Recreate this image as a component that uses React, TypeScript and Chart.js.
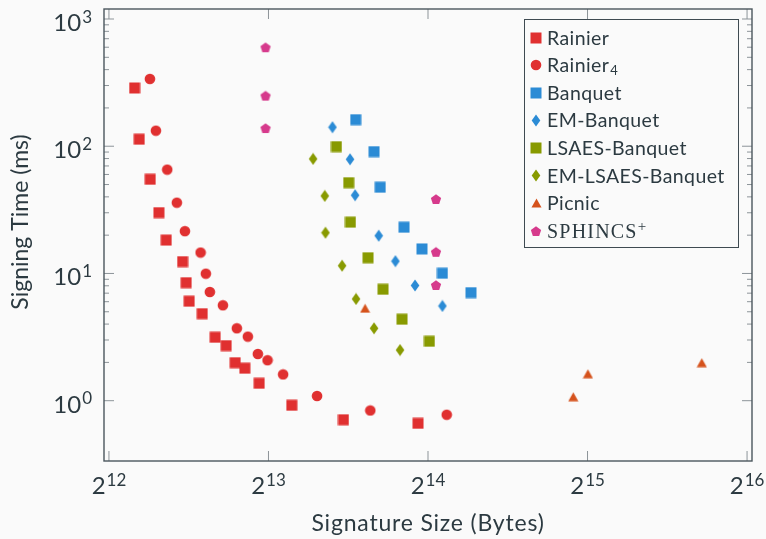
import React, { useEffect, useRef } from 'react';
import { Chart, registerables } from 'chart.js';

Chart.register(...registerables);

// ---- data (x: signature size in bytes, y: signing time in ms) ----
const rainierSize = [4579, 4672, 4900, 5089, 5253, 5640, 5729, 5804, 6142, 6498, 6816, 7088, 7392, 7866, 9066, 11349, 15689];
const rainierTime = [287, 113.5, 55.0, 30.1, 18.3, 12.4, 8.47, 6.05, 4.83, 3.15, 2.71, 1.99, 1.8, 1.37, 0.92, 0.709, 0.664];
const rainier4Size = [4894, 5023, 5276, 5502, 5697, 6099, 6241, 6350, 6720, 7141, 7489, 7822, 8159, 8730, 10117, 12749, 17771];
const rainier4Time = [338, 132.6, 65.5, 36.0, 21.5, 14.6, 9.96, 7.15, 5.62, 3.71, 3.19, 2.33, 2.08, 1.61, 1.089, 0.838, 0.776];
const banquetSize = [11969, 12961, 13314, 14764, 15962, 17442, 19745];
const banquetTime = [161.8, 90.7, 47.6, 23.1, 15.6, 10.04, 7.07];
const emBanquetSize = [10819, 11677, 11934, 13227, 14222, 15485, 17442];
const emBanquetTime = [141.1, 79.0, 41.2, 19.8, 12.5, 8.05, 5.55];
const lsaesSize = [11008, 11611, 11698, 12627, 13477, 14636, 16484];
const lsaesTime = [99.3, 51.7, 25.3, 13.3, 7.51, 4.37, 2.93];
const emLsaesSize = [9944, 10462, 10494, 11279, 11985, 12961, 14509];
const emLsaesTime = [79.5, 40.7, 20.9, 11.5, 6.3, 3.71, 2.5];
const picnicSize = [12464, 30801, 32818, 53830];
const picnicTime = [5.33, 1.075, 1.63, 1.99];
const sphincsSize = [8088, 8088, 8088, 16962, 16962, 16962];
const sphincsTime = [600, 250, 139, 38.5, 14.8, 8.12];

// tick exponents
const xTickExps = [12, 13, 14, 15, 16];
const yTickExps = [0, 1, 2, 3];

const xTitle = 'Signature Size (Bytes)';
const yTitle = 'Signing Time (ms)';

// legend entries: main text, subscript, superscript
const legendNames = ['Rainier', 'Rainier', 'Banquet', 'EM-Banquet', 'LSAES-Banquet', 'EM-LSAES-Banquet', 'Picnic', 'SPHINCS'];
const legendSubs = ['', '4', '', '', '', '', '', ''];
const legendSups = ['', '', '', '', '', '', '', '+'];

// ---- styles ----
const FONT = 'Lato, "Open Sans", sans-serif';
const SERIF = '"Liberation Serif", "DejaVu Serif", serif';
const TEXT = '#2c3a41';
const BG = '#fafafa';
const AXIS = '#4a565d';
const TICK = '#8d9499';
const RED = '#e03030';
const BLUE = '#2b8bd5';
const OLIVE = '#889a00';
const ORANGE = '#d5521c';
const MAGENTA = '#d63a8c';

function makeMarker(shape: string, color: string): HTMLCanvasElement {
  const c = document.createElement('canvas');
  const sizes: Record<string, [number, number]> = {
    square: [12, 12],
    circle: [12, 12],
    diamond: [10, 13],
    triangle: [11, 10],
    pentagon: [12, 12],
  };
  const [w, h] = sizes[shape];
  c.width = w;
  c.height = h;
  const ctx = c.getContext('2d')!;
  ctx.fillStyle = color;
  ctx.beginPath();
  if (shape === 'square') {
    ctx.rect(0.5, 0.5, w - 1, h - 1);
  } else if (shape === 'circle') {
    ctx.arc(w / 2, h / 2, 5.3, 0, Math.PI * 2);
  } else if (shape === 'diamond') {
    ctx.moveTo(w / 2, 0.5);
    ctx.lineTo(w - 0.7, h / 2);
    ctx.lineTo(w / 2, h - 0.5);
    ctx.lineTo(0.7, h / 2);
    ctx.closePath();
  } else if (shape === 'triangle') {
    ctx.moveTo(w / 2, 0.5);
    ctx.lineTo(w - 0.5, h - 0.5);
    ctx.lineTo(0.5, h - 0.5);
    ctx.closePath();
  } else if (shape === 'pentagon') {
    const r = 5.4;
    const cx = w / 2;
    const cy = h / 2 + 0.6;
    for (let k = 0; k < 5; k++) {
      const a = -Math.PI / 2 + (k * 2 * Math.PI) / 5;
      const px = cx + r * Math.cos(a);
      const py = cy + r * Math.sin(a);
      if (k === 0) ctx.moveTo(px, py);
      else ctx.lineTo(px, py);
    }
    ctx.closePath();
  }
  ctx.fill();
  return c;
}

function drawPow(ctx: CanvasRenderingContext2D, base: string, exp: string, x: number, y: number, align: 'center' | 'right') {
  const baseFont = `24px ${FONT}`;
  const expFont = `17px ${FONT}`;
  ctx.font = baseFont;
  const bw = ctx.measureText(base).width;
  ctx.font = expFont;
  const ew = ctx.measureText(exp).width;
  const total = bw + 1 + ew;
  const start = align === 'center' ? x - total / 2 : x - total;
  ctx.textAlign = 'left';
  ctx.textBaseline = 'alphabetic';
  ctx.fillStyle = TEXT;
  ctx.font = baseFont;
  ctx.fillText(base, start, y);
  ctx.font = expFont;
  ctx.fillText(exp, start + bw + 1, y - 8.5);
}

export default function App() {
  const ref = useRef<HTMLCanvasElement>(null);

  useEffect(() => {
    const canvas = ref.current!;
    const series = [
      { label: 'Rainier', xs: rainierSize, ys: rainierTime, shape: 'square', color: RED },
      { label: 'Rainier4', xs: rainier4Size, ys: rainier4Time, shape: 'circle', color: RED },
      { label: 'Banquet', xs: banquetSize, ys: banquetTime, shape: 'square', color: BLUE },
      { label: 'EM-Banquet', xs: emBanquetSize, ys: emBanquetTime, shape: 'diamond', color: BLUE },
      { label: 'LSAES-Banquet', xs: lsaesSize, ys: lsaesTime, shape: 'square', color: OLIVE },
      { label: 'EM-LSAES-Banquet', xs: emLsaesSize, ys: emLsaesTime, shape: 'diamond', color: OLIVE },
      { label: 'Picnic', xs: picnicSize, ys: picnicTime, shape: 'triangle', color: ORANGE },
      { label: 'SPHINCS+', xs: sphincsSize, ys: sphincsTime, shape: 'pentagon', color: MAGENTA },
    ];
    const markers = series.map((s) => makeMarker(s.shape, s.color));

    const pgfPlugin = {
      id: 'pgfAxes',
      beforeDraw(chart: any) {
        const ctx = chart.ctx;
        ctx.save();
        ctx.fillStyle = BG;
        ctx.fillRect(0, 0, chart.width, chart.height);
        ctx.restore();
      },
      afterDatasetsDraw(chart: any) {
        const ctx: CanvasRenderingContext2D = chart.ctx;
        const a = chart.chartArea;
        const xs = chart.scales.x;
        const ys = chart.scales.y;
        ctx.save();
        // ticks (inward, on all four sides)
        ctx.strokeStyle = TICK;
        ctx.lineWidth = 1;
        ctx.beginPath();
        for (const e of xTickExps) {
          const px = xs.getPixelForValue(Math.pow(2, e));
          ctx.moveTo(px, a.bottom);
          ctx.lineTo(px, a.bottom - 10);
          ctx.moveTo(px, a.top);
          ctx.lineTo(px, a.top + 10);
        }
        for (let i = 0; i < yTickExps.length; i++) {
          const e = yTickExps[i];
          const py = ys.getPixelForValue(Math.pow(10, e));
          ctx.moveTo(a.left, py);
          ctx.lineTo(a.left + 10, py);
          ctx.moveTo(a.right, py);
          ctx.lineTo(a.right - 10, py);
          if (i < yTickExps.length - 1) {
            for (let m = 2; m <= 9; m++) {
              const my = ys.getPixelForValue(m * Math.pow(10, e));
              ctx.moveTo(a.left, my);
              ctx.lineTo(a.left + 5, my);
              ctx.moveTo(a.right, my);
              ctx.lineTo(a.right - 5, my);
            }
          }
        }
        ctx.stroke();
        // frame
        ctx.strokeStyle = AXIS;
        ctx.lineWidth = 1.4;
        ctx.strokeRect(a.left, a.top, a.right - a.left, a.bottom - a.top);

        // tick labels
        for (const e of xTickExps) {
          const px = xs.getPixelForValue(Math.pow(2, e));
          drawPow(ctx, '2', String(e), px, a.bottom + 33, 'center');
        }
        for (const e of yTickExps) {
          const py = ys.getPixelForValue(Math.pow(10, e));
          drawPow(ctx, '10', String(e), a.left - 12, py + 12, 'right');
        }

        // axis titles
        ctx.fillStyle = TEXT;
        ctx.font = `23px ${FONT}`;
        ctx.textAlign = 'center';
        ctx.textBaseline = 'alphabetic';
        (ctx as any).letterSpacing = '0.8px';
        ctx.fillText(xTitle, (a.left + a.right) / 2, 531);
        (ctx as any).letterSpacing = '0px';
        ctx.save();
        ctx.translate(28, 222);
        ctx.rotate(-Math.PI / 2);
        ctx.fillText(yTitle, 0, 0);
        ctx.restore();
        ctx.restore();
      },
      afterDraw(chart: any) {
        const ctx: CanvasRenderingContext2D = chart.ctx;
        ctx.save();
        // legend box
        ctx.strokeStyle = '#3e4a51';
        ctx.lineWidth = 1;
        ctx.strokeRect(524.5, 19.5, 214, 228);
        const x0 = 536;
        const tx = 547;
        for (let i = 0; i < legendNames.length; i++) {
          const y = 37.5 + i * 27.6;
          const mk = markers[i];
          ctx.drawImage(mk, Math.round(x0 - mk.width / 2), Math.round(y - mk.height / 2));
          ctx.fillStyle = TEXT;
          ctx.textAlign = 'left';
          ctx.textBaseline = 'alphabetic';
          const serif = legendSups[i] !== '';
          ctx.font = serif ? `20px ${SERIF}` : `19.5px ${FONT}`;
          (ctx as any).letterSpacing = serif ? '1.2px' : '0.4px';
          ctx.fillText(legendNames[i], tx, y + 7);
          const w = ctx.measureText(legendNames[i]).width;
          (ctx as any).letterSpacing = '0px';
          if (legendSubs[i]) {
            ctx.font = `13px ${FONT}`;
            ctx.fillText(legendSubs[i], tx + w + 1, y + 10);
          }
          if (legendSups[i]) {
            ctx.font = `15px ${SERIF}`;
            ctx.fillText(legendSups[i], tx + w, y);
          }
        }
        ctx.restore();
      },
    };

    const chart = new Chart(canvas, {
      type: 'scatter',
      data: {
        datasets: series.map((s, i) => ({
          label: s.label,
          data: s.xs.map((x, j) => ({ x, y: s.ys[j] })),
          pointStyle: markers[i] as any,
          pointRadius: 6,
          pointHoverRadius: 6,
          backgroundColor: s.color,
          borderColor: s.color,
        })),
      },
      options: {
        responsive: false,
        animation: false,
        events: [],
        layout: { autoPadding: false, padding: { left: 104, top: 9, right: 14, bottom: 78 } },
        plugins: { legend: { display: false }, tooltip: { enabled: false } },
        scales: {
          x: { type: 'logarithmic', display: false, min: Math.pow(2, 11.969), max: Math.pow(2, 16.031), bounds: 'data' },
          y: { type: 'logarithmic', display: false, min: Math.pow(10, -0.474), max: Math.pow(10, 3.0786), bounds: 'data' },
        },
      } as any,
      plugins: [pgfPlugin],
    });
    return () => chart.destroy();
  }, []);

  return (
    <div style={{ position: 'absolute', left: 0, top: 0, width: 766, height: 539, background: BG }}>
      <canvas ref={ref} width={766} height={539} style={{ display: 'block', width: 766, height: 539 }} />
    </div>
  );
}
